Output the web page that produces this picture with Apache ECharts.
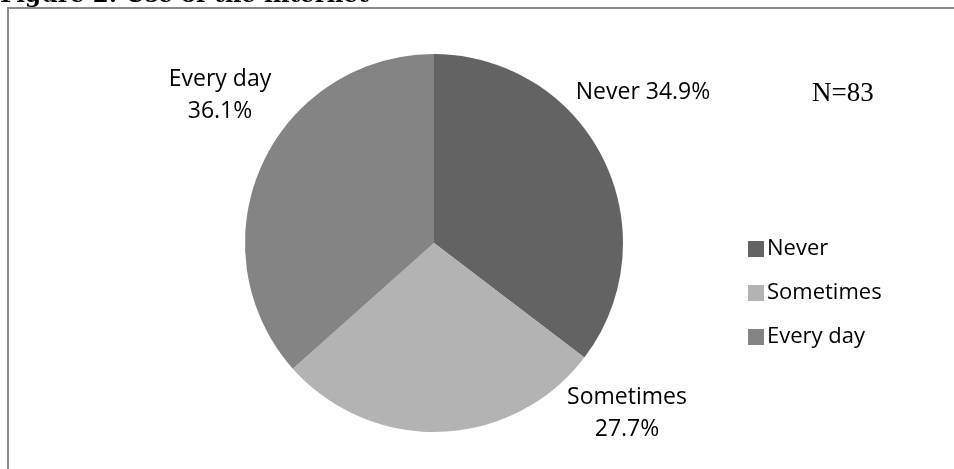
<!DOCTYPE html>
<html>
<head>
<meta charset="utf-8">
<script src="https://cdn.jsdelivr.net/npm/echarts@6/dist/echarts.min.js"></script>
<style>
  html, body { margin: 0; padding: 0; background: #fff; }
  #chart { width: 954px; height: 469px; }
</style>
</head>
<body>
<div id="chart"></div>
<script>
// Frequency of internet use (share of respondents, %)
const categories = ['Never', 'Sometimes', 'Every day'];
const shares = [34.9, 27.7, 36.1];
const sampleSize = 83;

const sliceColors = ['#636363', '#b3b3b3', '#848484'];
const labelFont = '"Open Sans", sans-serif';

// Where each data label sits (centre of the text block)
const labelSpots = [
  { x: 643, y: 92, align: 'center' },
  { x: 627, y: 413, align: 'center' },
  { x: 220, y: 95, align: 'center' }
];

const chart = echarts.init(document.getElementById('chart'), null, { renderer: 'canvas' });

chart.setOption({
  animation: false,
  backgroundColor: '#ffffff',
  color: sliceColors,
  legend: {
    orient: 'vertical',
    left: 743,
    top: 233,
    icon: 'rect',
    itemWidth: 16,
    itemHeight: 16,
    itemGap: 22,
    data: categories,
    textStyle: { fontFamily: labelFont, fontSize: 22, color: '#000', padding: [0, 0, 0, -2] }
  },
  graphic: [
    {
      type: 'rect',
      shape: { x: 8, y: 8, width: 2000, height: 2000 },
      style: { fill: 'none', stroke: '#8a8a8a', lineWidth: 2 },
      silent: true
    },
    {
      type: 'text',
      left: 0,
      top: -15.5,
      style: {
        text: 'Figure 2: Use of the internet',
        font: 'bold 23px "DejaVu Serif", serif',
        fill: '#000'
      }
    },
    {
      type: 'text',
      left: 812,
      top: 80,
      style: {
        text: 'N=' + sampleSize,
        font: '27px "Liberation Serif", serif',
        fill: '#000'
      }
    }
  ],
  series: [{
    type: 'pie',
    center: [434, 243],
    radius: ['0%', 189],
    startAngle: 90,
    clockwise: true,
    avoidLabelOverlap: false,
    data: categories.map((name, i) => ({ name, value: shares[i] })),
    itemStyle: { borderWidth: 0 },
    label: {
      show: true,
      position: 'outside',
      fontFamily: labelFont,
      fontSize: 23,
      lineHeight: 32,
      color: '#000',
      formatter: p => p.dataIndex === 0
        ? p.name + ' ' + p.value.toFixed(1) + '%'
        : p.name + '\n' + p.value.toFixed(1) + '%'
    },
    labelLine: { show: false },
    labelLayout: p => {
      const s = labelSpots[p.dataIndex];
      return { x: s.x, y: s.y, align: s.align, verticalAlign: 'middle' };
    },
    emphasis: { disabled: true }
  }]
});
</script>
</body>
</html>
